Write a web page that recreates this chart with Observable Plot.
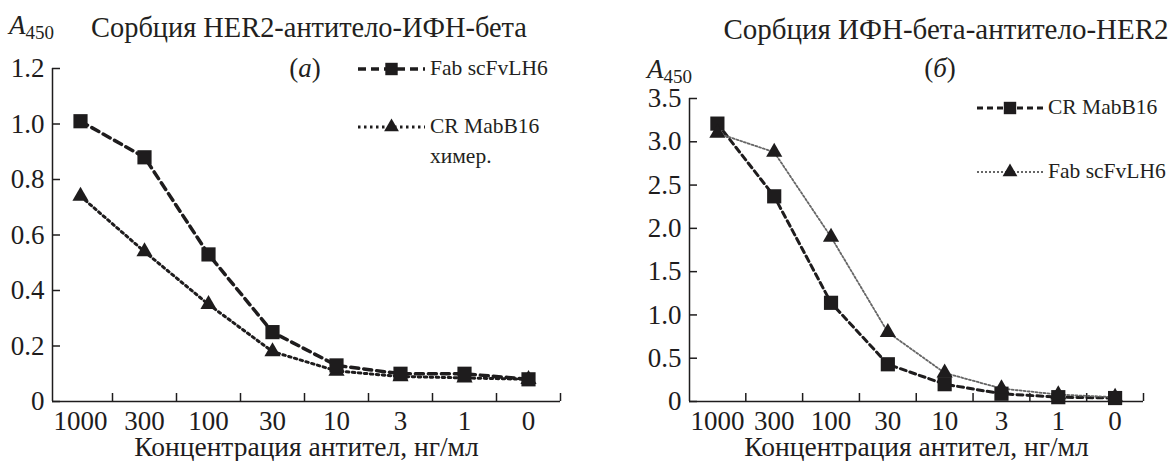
<!DOCTYPE html>
<html>
<head>
<meta charset="utf-8">
<script src="https://cdn.jsdelivr.net/npm/d3@7"></script>
<script src="https://cdn.jsdelivr.net/npm/@observablehq/plot@0.6"></script>
<style>
  html, body { margin: 0; padding: 0; background: #fff; }
  #wrap { position: relative; width: 1175px; height: 461px; overflow: hidden; font-family: "Liberation Serif", "DejaVu Serif", serif; color: #231f20; }
  .abs { position: absolute; white-space: nowrap; line-height: 1; }
  .title { font-size: 28.4px; }
  .title.r { font-size: 29px; }
  .ylab { font-size: 27px; }
  .ylab i { font-style: italic; }
  .ylab sub { font-size: 19px; vertical-align: -5px; }
  .panel { font-size: 27px; }
  .leg { font-size: 21.5px; }
  .plot { position: absolute; top: 0; }
</style>
</head>
<body>
<div id="wrap"></div>
<script>
// ---- data ----
const categories = ["1000", "300", "100", "30", "10", "3", "1", "0"];
const leftFab = [1.01, 0.88, 0.53, 0.25, 0.13, 0.10, 0.10, 0.08];
const leftCR  = [0.74, 0.54, 0.35, 0.18, 0.11, 0.09, 0.085, 0.08];
const rightCR  = [3.21, 2.37, 1.14, 0.43, 0.20, 0.09, 0.05, 0.04];
const rightFab = [3.10, 2.88, 1.90, 0.80, 0.33, 0.15, 0.08, 0.05];
const leftYTicks  = [0, 0.2, 0.4, 0.6, 0.8, 1.0, 1.2];
const rightYTicks = [0, 0.5, 1.0, 1.5, 2.0, 2.5, 3.0, 3.5];
const xTitle = "Концентрация антител, нг/мл";
const leftTitle = "Сорбция HER2-антитело-ИФН-бета";
const rightTitle = "Сорбция ИФН-бета-антитело-HER2";

const ink = "#1e1c1d";
const FONT = '"Liberation Serif", "DejaVu Serif", serif';
const TICK_FS = 27;

const rows = vals => vals.map((v, i) => ({ i, c: categories[i], v }));
const idx = categories.map((_, i) => i);
const between = categories.map((_, i) => i + 0.5); // tick marks between categories and at the right end

function panel({ width, marginLeft, marginRight, marginTop, marginBottom, xmin, ymax, yTicks, series }) {
  const plotW = width - marginLeft - marginRight;
  const plotH = 461 - marginTop - marginBottom;
  const xPerPx = (7.5 - xmin) / plotW;
  const yPerPx = ymax / plotH;
  const marks = [
    Plot.ruleY([0], { stroke: ink, strokeWidth: 1.5 }),
    Plot.ruleX([xmin], { y1: 0, y2: ymax, stroke: ink, strokeWidth: 1.5 }),
    Plot.ruleX(between, { y1: 0, y2: 8 * yPerPx, stroke: ink, strokeWidth: 1.5 }),
    Plot.ruleY(yTicks, { x1: xmin, x2: xmin + 8 * xPerPx, stroke: ink, strokeWidth: 1.5 }),
    Plot.axisY({ ticks: yTicks, label: null, tickSize: 0, tickPadding: 8, tickFormat: d => d === 0 ? "0" : d.toFixed(1), fontSize: TICK_FS, fill: ink }),
    Plot.axisX({ ticks: idx, label: null, tickSize: 0, tickPadding: 9, tickFormat: i => categories[i], fontSize: TICK_FS, fill: ink }),
    Plot.text([xTitle], { frameAnchor: "bottom", lineAnchor: "middle", dy: 46, fontSize: 27.5, fill: ink })
  ];
  for (const s of series) {
    marks.push(Plot.line(rows(s.values), { x: "i", y: "v", stroke: s.stroke, strokeWidth: s.strokeWidth, strokeDasharray: s.dash }));
  }
  for (const s of series) {
    marks.push(Plot.dot(rows(s.values), { x: "i", y: "v", symbol: s.symbol, r: s.r, fill: ink, stroke: "none" }));
  }
  return Plot.plot({
    width, height: 461,
    marginLeft, marginRight, marginTop, marginBottom,
    style: { fontFamily: FONT, fontSize: TICK_FS + "px", color: ink, background: "transparent", overflow: "visible" },
    x: { domain: [xmin, 7.5], axis: null },
    y: { domain: [0, ymax], axis: null },
    marks
  });
}

const wrap = document.getElementById("wrap");

const left = panel({
  width: 590, marginLeft: 52, marginRight: 30, marginTop: 68, marginBottom: 60,
  xmin: -0.4375, ymax: 1.2, yTicks: leftYTicks,
  series: [
    { values: leftCR, symbol: "triangle", r: 6, stroke: ink, strokeWidth: 3, dash: "2.5,3.5" },
    { values: leftFab, symbol: "square", r: 8, stroke: ink, strokeWidth: 3.5, dash: "8,5" }
  ]
});
left.classList.add("plot"); left.style.left = "0px";
wrap.appendChild(left);

const right = panel({
  width: 585, marginLeft: 99, marginRight: 32, marginTop: 98, marginBottom: 60,
  xmin: -0.491, ymax: 3.5, yTicks: rightYTicks,
  series: [
    { values: rightCR, symbol: "square", r: 8, stroke: ink, strokeWidth: 3, dash: "6,4" },
    { values: rightFab, symbol: "triangle", r: 6, stroke: "#666", strokeWidth: 1.8, dash: "2,2" }
  ]
});
right.classList.add("plot"); right.style.left = "590px";
wrap.appendChild(right);

// ---- titles, y labels, panel letters ----
function addText(html, cls, x, yc, anchor) {
  const d = document.createElement("div");
  d.className = "abs " + cls;
  d.innerHTML = html;
  d.style.left = x + "px";
  d.style.top = yc + "px";
  d.style.transform = anchor === "middle" ? "translate(-50%, -50%)" : "translate(0, -50%)";
  wrap.appendChild(d);
}
addText(leftTitle, "title", 309, 28, "middle");
addText(rightTitle, "title r", 946, 29, "middle");
addText("<i>A</i><sub>450</sub>", "ylab", 9, 27);
addText("<i>A</i><sub>450</sub>", "ylab", 647, 71);
addText("(<i>a</i>)", "panel", 305, 68, "middle");
addText("(<i>б</i>)", "panel", 940, 68, "middle");

// ---- legends ----
function legendItem(x, yc, label, s, w) {
  const svgNS = "http://www.w3.org/2000/svg";
  const svg = document.createElementNS(svgNS, "svg");
  svg.setAttribute("width", w); svg.setAttribute("height", 20);
  svg.style.position = "absolute"; svg.style.left = x + "px"; svg.style.top = (yc - 10) + "px";
  const ln = document.createElementNS(svgNS, "line");
  ln.setAttribute("x1", 0); ln.setAttribute("x2", w); ln.setAttribute("y1", 10); ln.setAttribute("y2", 10);
  ln.setAttribute("stroke", s.stroke); ln.setAttribute("stroke-width", s.strokeWidth); ln.setAttribute("stroke-dasharray", s.dash);
  svg.appendChild(ln);
  const p = document.createElementNS(svgNS, "path");
  const sym = s.symbol === "square" ? d3.symbolSquare : d3.symbolTriangle;
  p.setAttribute("d", d3.symbol(sym, Math.PI * s.r * s.r)());
  p.setAttribute("transform", `translate(${w / 2},10)`);
  p.setAttribute("fill", ink);
  svg.appendChild(p);
  wrap.appendChild(svg);
  addText(label, "leg", x + w + 5, yc);
}
legendItem(358, 69, "Fab scFvLH6", { symbol: "square", r: 7, stroke: ink, strokeWidth: 3.5, dash: "8,5" }, 67);
legendItem(358, 127, "CR MabB16", { symbol: "triangle", r: 5.5, stroke: ink, strokeWidth: 3, dash: "2.5,3.5" }, 67);
addText("химер.", "leg", 430, 157);
legendItem(977, 108, "CR MabB16", { symbol: "square", r: 7, stroke: ink, strokeWidth: 3, dash: "6,4" }, 66);
legendItem(977, 172, "Fab scFvLH6", { symbol: "triangle", r: 5.5, stroke: "#666", strokeWidth: 1.8, dash: "2,2" }, 66);
</script>
</body>
</html>
